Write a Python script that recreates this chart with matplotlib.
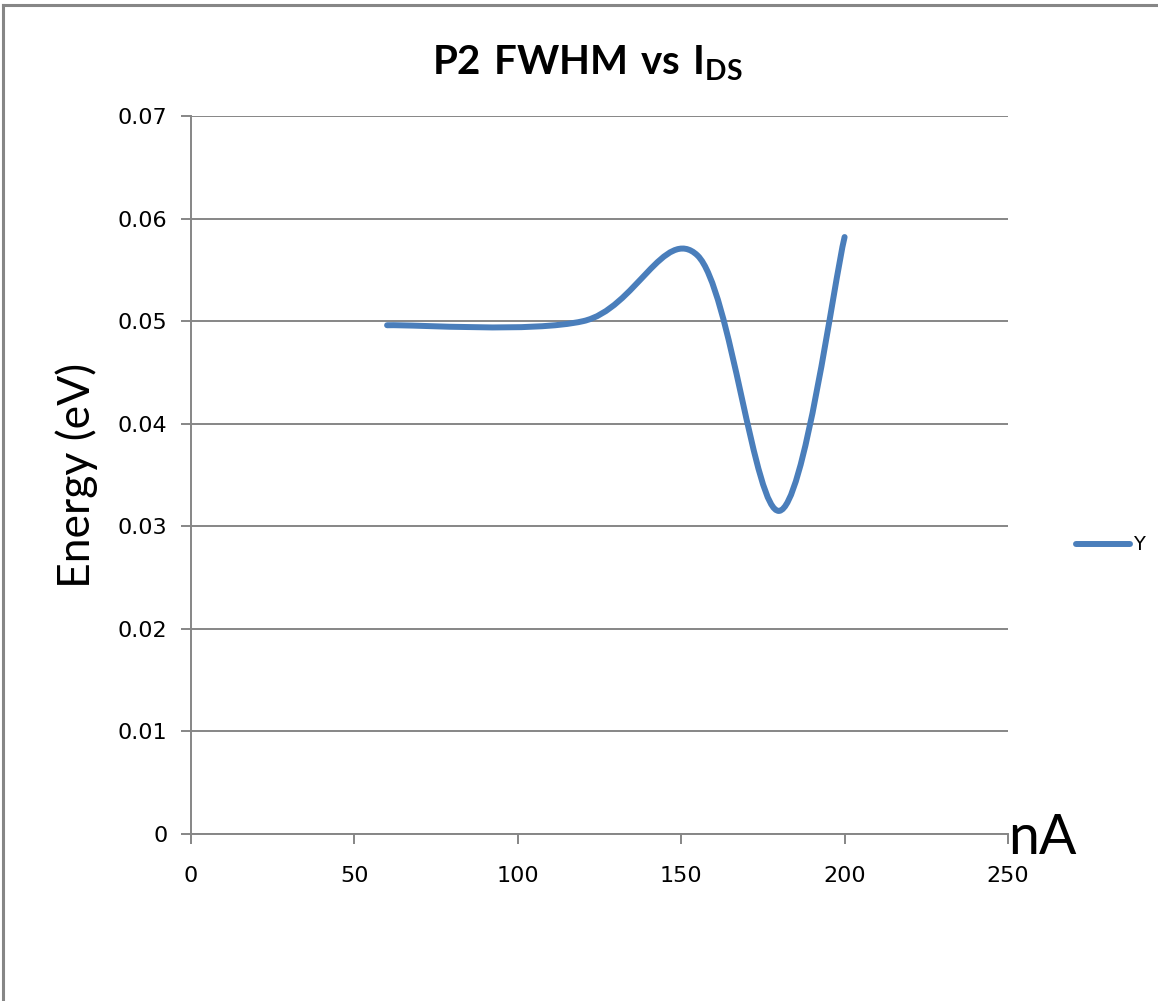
import numpy as np
import matplotlib
matplotlib.use('Agg')
import matplotlib.pyplot as plt
from matplotlib.path import Path
from matplotlib.patches import PathPatch
from matplotlib.lines import Line2D

# FWHM of P2 against drain current
ids_na = [60, 120, 155, 180, 200]
fwhm_ev = [0.0496, 0.0500, 0.0564, 0.0315, 0.0582]

x_ticks = [0, 50, 100, 150, 200, 250]
y_ticks = [0, 0.01, 0.02, 0.03, 0.04, 0.05, 0.06, 0.07]
y_labels = ['0', '0.01', '0.02', '0.03', '0.04', '0.05', '0.06', '0.07']

plt.rcParams['mathtext.fontset'] = 'custom'
plt.rcParams['mathtext.bf'] = 'Lato:bold'
plt.rcParams['mathtext.rm'] = 'Lato'

fig = plt.figure(figsize=(11.58, 10.01), dpi=100)
ax = fig.add_axes([191 / 1158, 167 / 1001, 817 / 1158, 718 / 1001])
ax.set_xlim(0, 250)
ax.set_ylim(0, 0.07)

# smoothed line: bezier segments with 1/6 tangents, worked out in screen space
sx, sy = 817 / 250, 718 / 0.07
P = np.column_stack([np.array(ids_na) * sx, np.array(fwhm_ev) * sy])
n = len(P)
verts = [P[0]]
codes = [Path.MOVETO]
for i in range(n - 1):
    p0 = P[i - 1] if i > 0 else P[i]
    p1, p2 = P[i], P[i + 1]
    p3 = P[i + 2] if i + 2 < n else P[i + 1]
    c1 = p1 + (p2 - p0) / 6
    c2 = p2 - (p3 - p1) / 6
    verts += [c1, c2, p2]
    codes += [Path.CURVE4] * 3
verts = np.array(verts) / [sx, sy]
blue = '#4A7EBB'
ax.add_patch(PathPatch(Path(verts, codes), fill=False, edgecolor=blue,
                       lw=4.3, capstyle='round', joinstyle='round', zorder=3))

grey = '#868686'
ax.set_xticks(x_ticks)
ax.set_yticks(y_ticks)
ax.set_yticklabels(y_labels)
ax.yaxis.grid(True, color=grey, lw=1.4)
ax.set_axisbelow(True)
for s in ['top', 'right']:
    ax.spines[s].set_visible(False)
for s in ['left', 'bottom']:
    ax.spines[s].set_color(grey)
    ax.spines[s].set_linewidth(1.4)
ax.tick_params(axis='both', direction='out', length=7, width=1.4, color=grey,
               labelsize=16, labelcolor='black')
ax.tick_params(axis='x', pad=16)
ax.tick_params(axis='y', pad=10)

ax.set_title(r'$\mathbf{P2\ FWHM\ vs\ I_{DS}}$', fontsize=29, pad=30, x=0.485)
ax.set_ylabel('Energy (eV)', fontsize=32, family='Lato', labelpad=14)
fig.text(1008 / 1158, (1001 - 838) / 1001, 'nA', fontsize=40, family='Lato',
         va='center', ha='left')

# legend
fig.legend(handles=[Line2D([], [], color=blue, lw=4.3, solid_capstyle='round')],
           labels=['Y'], loc='center left', bbox_to_anchor=(1058 / 1158, (1001 - 545) / 1001),
           frameon=False, fontsize=14, handlelength=2.8, handletextpad=0.15)

# outer chart border
fig.add_artist(Line2D([3 / 1158, 3 / 1158], [0, 1 - 5 / 1001], color=grey, lw=2.2,
                      transform=fig.transFigure))
fig.add_artist(Line2D([3 / 1158, 1], [1 - 5 / 1001, 1 - 5 / 1001], color=grey, lw=2.2,
                      transform=fig.transFigure))

fig.savefig('out.png', dpi=100)
